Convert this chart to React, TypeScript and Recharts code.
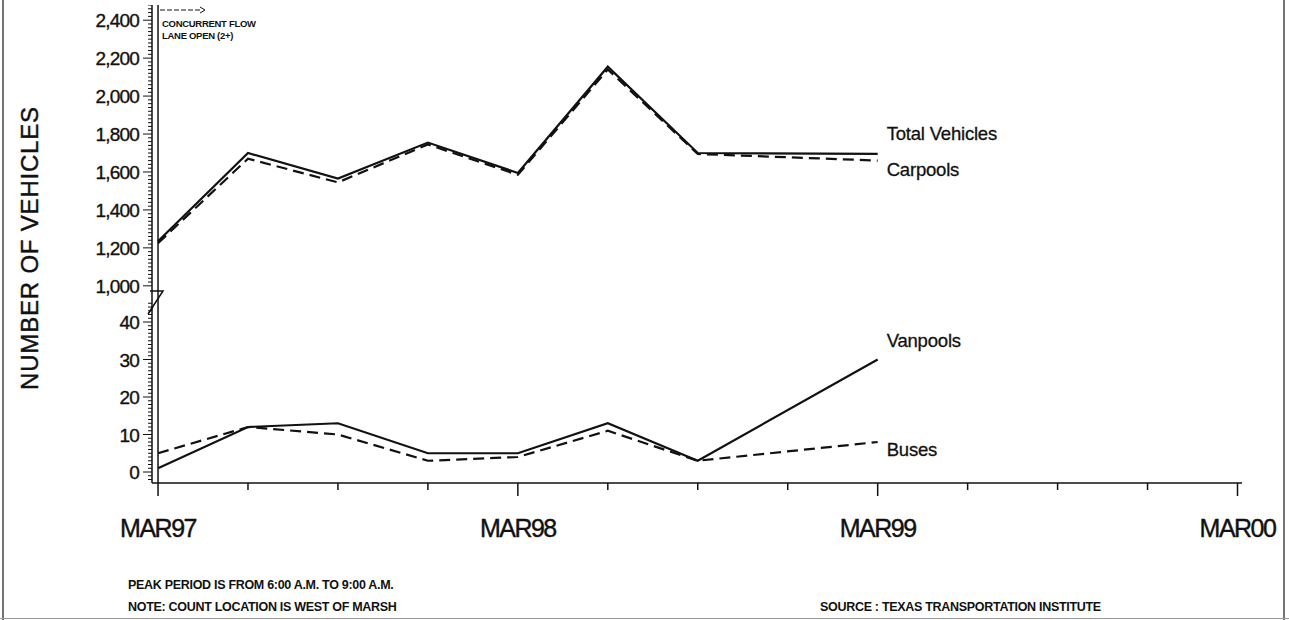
import React from 'react';
import { LineChart, Line, XAxis, YAxis, ReferenceLine, LabelList } from 'recharts';

const FONT = 'Arial, "Liberation Sans", Helvetica, sans-serif';
const INK = '#111';

// quarter index counted from MAR97 (0) to MAR00 (12)
const quarters = [0, 1, 2, 3, 4, 5, 6, 8];
const totalVehicles = [1235, 1700, 1565, 1755, 1595, 2155, 1700, 1695];
const carpools = [1225, 1670, 1545, 1745, 1585, 2140, 1695, 1660];
const vanpools = [1, 12, 13, 5, 5, 13, 3, 30];
const buses = [5, 12, 10, 3, 4, 11, 3, 8];

const seriesNames = ['Total Vehicles', 'Carpools', 'Vanpools', 'Buses'];

const xTicks = [0, 1, 2, 3, 4, 5, 6, 7, 8, 9, 10, 11, 12];
const xTickLabels: Record<number, string> = { 0: 'MAR97', 4: 'MAR98', 8: 'MAR99', 12: 'MAR00' };

const upperLabels = [1000, 1200, 1400, 1600, 1800, 2000, 2200, 2400];
const lowerLabels = [0, 10, 20, 30, 40];

const upperTicks: number[] = [];
for (let v = 1000; v <= 2480; v += 20) upperTicks.push(v);
const lowerTicks: number[] = [];
for (let v = -2; v <= 45; v += 1) lowerTicks.push(v);

const last = quarters.length - 1;
const upperRows = quarters.map((q, i) => ({
  q,
  total: totalVehicles[i],
  carpools: carpools[i],
  totalName: i === last ? seriesNames[0] : undefined,
  carpoolsName: i === last ? seriesNames[1] : undefined,
}));
const lowerRows = quarters.map((q, i) => ({
  q,
  vanpools: vanpools[i],
  buses: buses[i],
  vanpoolsName: i === last ? seriesNames[2] : undefined,
  busesName: i === last ? seriesNames[3] : undefined,
}));

const xDomain: [number, number] = [-0.067, 12.05];
const chartMargin = { top: 0, right: 47, bottom: 0, left: 52 };

const fmt = (v: number) =>
  v >= 1000 ? `${Math.floor(v / 1000)},${String(v % 1000).padStart(3, '0')}` : String(v);

function makeYTick(majors: number[]) {
  return (props: any) => {
    const { x, y, payload } = props;
    const major = majors.includes(payload.value);
    return (
      <g>
        <line x1={x - (major ? 9 : 4)} x2={x} y1={y} y2={y} stroke={INK} strokeWidth={1} />
        {major && (
          <text
            x={x - 13}
            y={y}
            dy={7}
            textAnchor="end"
            fontSize={19}
            letterSpacing={-0.8}
            fontFamily={FONT}
            fill={INK}
            stroke={INK}
            strokeWidth={0.35}
          >
            {fmt(payload.value)}
          </text>
        )}
      </g>
    );
  };
}

function XTick(props: any) {
  const { x, y, payload } = props;
  const label = xTickLabels[payload.value];
  return (
    <g>
      <line x1={x} x2={x} y1={y} y2={y + (label ? 13 : 7)} stroke={INK} strokeWidth={1.5} />
      {label && (
        <text
          x={x}
          y={y + 54}
          textAnchor="middle"
          fontSize={25}
          letterSpacing={-1.5}
          fontFamily={FONT}
          fill={INK}
          stroke={INK}
          strokeWidth={0.4}
        >
          {label}
        </text>
      )}
    </g>
  );
}

function endLabel(dy: number) {
  return (props: any) => {
    const { x, y, value } = props;
    if (!value) return null;
    return (
      <text
        x={x + 9}
        y={y + dy}
        fontSize={18.5}
        letterSpacing={-0.2}
        fontFamily={FONT}
        fill={INK}
        stroke={INK}
        strokeWidth={0.3}
      >
        {value}
      </text>
    );
  };
}

function FlowNote(props: any) {
  const { x, y } = props.viewBox || {};
  if (x == null) return null;
  return (
    <g fontFamily={FONT} fontWeight="bold" fontSize={9.5} fill={INK}>
      <line x1={x + 2} x2={x + 44} y1={y + 5} y2={y + 5} stroke={INK} strokeWidth={1} strokeDasharray="5 2" />
      <path d={`M${x + 42},${y + 2} L${x + 47},${y + 5} L${x + 42},${y + 8}`} fill="none" stroke={INK} strokeWidth={1} />
      <text x={x + 4} y={y + 22} letterSpacing={-0.3}>CONCURRENT FLOW</text>
      <text x={x + 4} y={y + 34} letterSpacing={-0.3}>LANE OPEN (2+)</text>
    </g>
  );
}

export default function App() {
  return (
    <div
      style={{
        position: 'absolute',
        left: 0,
        top: 0,
        width: 1289,
        height: 620,
        background: '#fff',
        fontFamily: FONT,
        overflow: 'hidden',
      }}
    >
      <div style={{ position: 'absolute', left: 0, top: 5 }}>
        <LineChart width={1289} height={296} margin={chartMargin} data={upperRows}>
          <XAxis dataKey="q" type="number" domain={xDomain} allowDataOverflow hide height={0} />
          <YAxis
            type="number"
            domain={[920, 2480]}
            allowDataOverflow
            width={100}
            ticks={upperTicks}
            interval={0}
            tickSize={0}
            tickMargin={0}
            tick={makeYTick(upperLabels)}
            axisLine={{ stroke: INK, strokeWidth: 1.5 }}
          />
          <ReferenceLine x={0} stroke={INK} strokeWidth={1.5} label={<FlowNote />} />
          <Line
            dataKey="total"
            stroke={INK}
            strokeWidth={2.2}
            dot={false}
            isAnimationActive={false}
          >
            <LabelList dataKey="totalName" content={endLabel(-14)} />
          </Line>
          <Line
            dataKey="carpools"
            stroke={INK}
            strokeWidth={2.2}
            strokeDasharray="11 6"
            dot={false}
            isAnimationActive={false}
          >
            <LabelList dataKey="carpoolsName" content={endLabel(15)} />
          </Line>
        </LineChart>
      </div>

      <div style={{ position: 'absolute', left: 0, top: 301 }}>
        <LineChart width={1289} height={252} margin={chartMargin} data={lowerRows}>
          <XAxis
            dataKey="q"
            type="number"
            domain={xDomain}
            allowDataOverflow
            height={70}
            ticks={xTicks}
            interval={0}
            tickSize={0}
            tickMargin={0}
            tick={<XTick />}
            axisLine={{ stroke: INK, strokeWidth: 1.5 }}
          />
          <YAxis
            type="number"
            domain={[-2.93, 45.6]}
            allowDataOverflow
            width={100}
            ticks={lowerTicks}
            interval={0}
            tickSize={0}
            tickMargin={0}
            tick={makeYTick(lowerLabels)}
            axisLine={{ stroke: INK, strokeWidth: 1.5 }}
          />
          <ReferenceLine x={0} stroke={INK} strokeWidth={1.5} />
          <Line
            dataKey="vanpools"
            stroke={INK}
            strokeWidth={2.2}
            dot={false}
            isAnimationActive={false}
          >
            <LabelList dataKey="vanpoolsName" content={endLabel(-13)} />
          </Line>
          <Line
            dataKey="buses"
            stroke={INK}
            strokeWidth={2.2}
            strokeDasharray="11 6"
            dot={false}
            isAnimationActive={false}
          >
            <LabelList dataKey="busesName" content={endLabel(14)} />
          </Line>
        </LineChart>
      </div>

      <svg
        width={1289}
        height={620}
        style={{ position: 'absolute', left: 0, top: 0, pointerEvents: 'none' }}
      >
        <line x1={3} x2={3} y1={0} y2={620} stroke="#444" strokeWidth={1.5} />
        <line x1={1284} x2={1284} y1={0} y2={620} stroke="#444" strokeWidth={1.5} />
        <line x1={0} x2={1289} y1={618.5} y2={618.5} stroke="#999" strokeWidth={1} />
        <path d="M150,291 L163,291 L148,314 M148,314 L153,307" fill="none" stroke={INK} strokeWidth={1.5} />
        <text
          transform="translate(38,248) rotate(-90)"
          textAnchor="middle"
          fontSize={24}
          letterSpacing={0.8}
          fontFamily={FONT}
          fill={INK}
          stroke={INK}
          strokeWidth={0.4}
        >
          NUMBER OF VEHICLES
        </text>
        <g fontFamily={FONT} fontWeight="bold" fontSize={12.5} fill={INK} letterSpacing={-0.3}>
          <text x={128} y={589}>PEAK PERIOD IS FROM 6:00 A.M. TO 9:00 A.M.</text>
          <text x={128} y={611}>NOTE: COUNT LOCATION IS WEST OF MARSH</text>
          <text x={820} y={611}>SOURCE : TEXAS TRANSPORTATION INSTITUTE</text>
        </g>
      </svg>
    </div>
  );
}
